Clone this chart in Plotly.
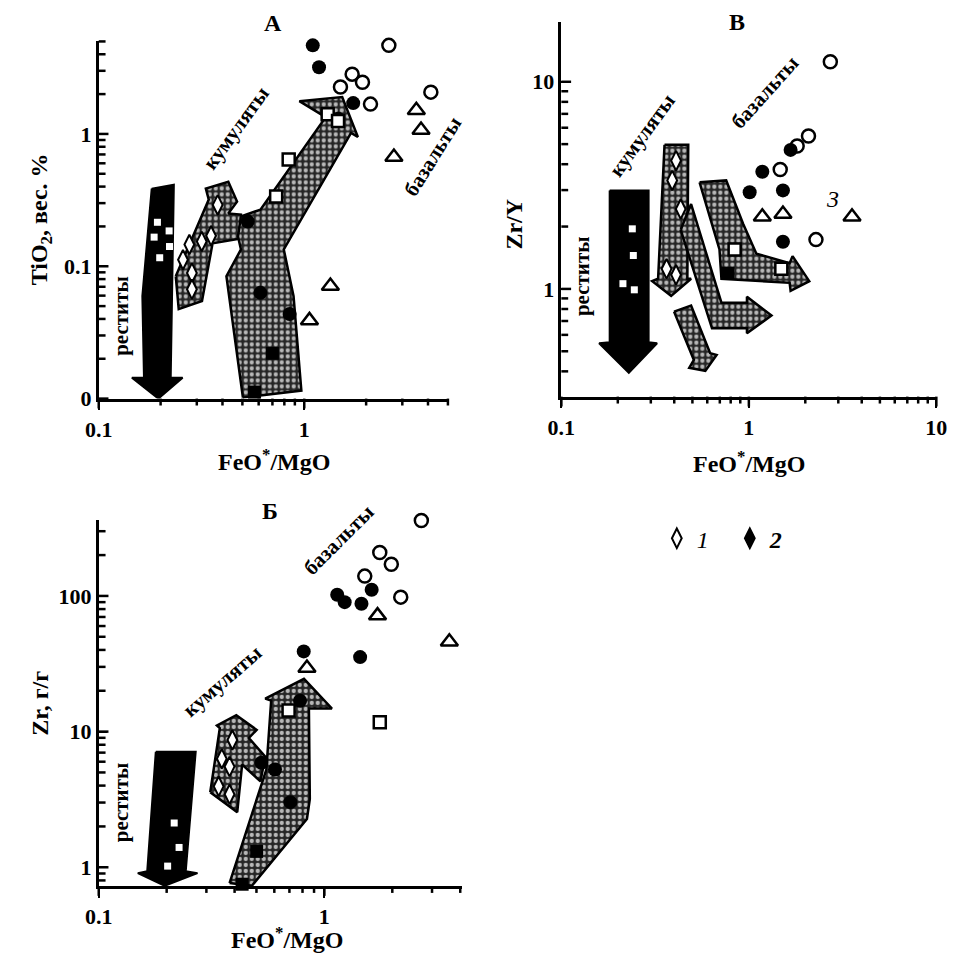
import math
import plotly.graph_objects as go

SERIF = "Liberation Serif, Times New Roman, serif"
W, H = 960, 973

# ---------------- Panel A: TiO2 (wt.%) vs FeO*/MgO ----------------
A_open_circle_x = [2.58, 1.50, 1.71, 1.92, 2.10, 4.13]
A_open_circle_y = [4.67, 2.26, 2.83, 2.46, 1.68, 2.07]
A_filled_circle_x = [1.10, 1.18, 1.73, 1.465, 0.531, 0.612, 0.849]
A_filled_circle_y = [4.67, 3.19, 1.71, 1.30, 0.218, 0.063, 0.0436]
A_filled_square_x = [0.573, 0.70]
A_filled_square_y = [0.0112, 0.022]
A_triangle_x = [3.51, 3.70, 2.73, 1.34, 1.06]
A_triangle_y = [1.51, 1.07, 0.67, 0.071, 0.039]
A_open_square_x = [0.84, 0.73, 1.30, 1.46]
A_open_square_y = [0.64, 0.336, 1.41, 1.25]
A_restite_x = [0.193, 0.220, 0.186, 0.221, 0.198]
A_restite_y = [0.215, 0.185, 0.166, 0.141, 0.116]
A_diamond_x = [0.379, 0.352, 0.317, 0.276, 0.257, 0.284, 0.284]
A_diamond_y = [0.291, 0.170, 0.154, 0.146, 0.112, 0.089, 0.067]
A_restite_arrow_x = [0.181, 0.232, 0.224, 0.256, 0.195, 0.145, 0.166, 0.163, 0.181]
A_restite_arrow_y = [0.386, 0.414, 0.0144, 0.0144, 0.0100, 0.0144, 0.0144, 0.0595, 0.386]
A_cumulate_arrow_x = [0.237, 0.245, 0.318, 0.358, 0.492, 0.492, 0.427, 0.471, 0.427, 0.332, 0.343, 0.237]
A_cumulate_arrow_y = [0.084, 0.0475, 0.0546, 0.149, 0.162, 0.246, 0.250, 0.308, 0.435, 0.386, 0.319, 0.084]
A_melt_arrow_x = [0.503, 0.968, 0.887, 0.795, 1.689, 1.823, 1.530, 0.947, 1.271, 0.612, 0.492, 0.476, 0.492, 0.418, 0.503]
A_melt_arrow_y = [0.0102, 0.0115, 0.0595, 0.134, 1.017, 0.95, 1.90, 1.77, 1.34, 0.268, 0.238, 0.168, 0.134, 0.084, 0.0102]
A_xticks = [0.1, 1]
A_xticklabels = ["0.1", "1"]
A_yticks = [0.01, 0.1, 1]
A_yticklabels = ["0", "0.1", "1"]

# ---------------- Panel В: Zr/Y vs FeO*/MgO ----------------
B_open_circle_x = [2.72, 2.08, 1.81, 1.47, 2.28]
B_open_circle_y = [12.5, 5.47, 4.90, 3.77, 1.73]
B_filled_circle_x = [1.67, 1.18, 1.01, 1.52, 1.52]
B_filled_circle_y = [4.69, 3.68, 2.93, 2.99, 1.69]
B_filled_square_x = [0.774]
B_filled_square_y = [1.19]
B_triangle_x = [1.18, 1.52, 3.55]
B_triangle_y = [2.23, 2.30, 2.23]
B_open_square_x = [0.84, 1.49]
B_open_square_y = [1.55, 1.25]
B_restite_x = [0.239, 0.242, 0.213, 0.245]
B_restite_y = [1.95, 1.45, 1.06, 0.99]
B_diamond_x = [0.409, 0.390, 0.433, 0.364, 0.409]
B_diamond_y = [4.16, 3.34, 2.43, 1.25, 1.17]
B_restite_arrow_x = [0.181, 0.292, 0.292, 0.324, 0.229, 0.159, 0.181, 0.181]
B_restite_arrow_y = [2.99, 2.99, 0.553, 0.547, 0.394, 0.547, 0.553, 2.99]
B_cumulate_arrow_x = [0.355, 0.475, 0.470, 0.492, 0.385, 0.305, 0.328, 0.355]
B_cumulate_arrow_y = [4.96, 4.96, 1.12, 1.12, 0.926, 1.09, 1.12, 4.96]
B_bend_arrow_x = [0.433, 0.492, 0.714, 0.977, 0.977, 1.32, 0.977, 0.977, 0.636, 0.433]
B_bend_arrow_y = [1.93, 2.57, 0.858, 0.858, 0.916, 0.744, 0.611, 0.645, 0.645, 1.93]
B_small_arrow_x = [0.399, 0.492, 0.621, 0.673, 0.586, 0.481, 0.509, 0.399]
B_small_arrow_y = [0.777, 0.830, 0.490, 0.480, 0.402, 0.416, 0.454, 0.777]
B_melt_arrow_x = [0.546, 0.757, 0.933, 1.097, 1.65, 1.71, 2.10, 1.67, 1.65, 0.714, 0.697, 0.546]
B_melt_arrow_y = [3.27, 3.34, 2.06, 1.48, 1.33, 1.44, 1.09, 0.978, 1.07, 1.12, 1.55, 3.27]
B_xticks = [0.1, 1, 10]
B_xticklabels = ["0.1", "1", "10"]
B_yticks = [1, 10]
B_yticklabels = ["1", "10"]

# ---------------- Panel Б: Zr (g/t) vs FeO*/MgO ----------------
C_open_circle_x = [2.69, 1.76, 1.98, 1.51, 2.18]
C_open_circle_y = [360, 209, 171, 140, 98]
C_filled_circle_x = [1.14, 1.23, 1.46, 1.62, 1.44, 0.81, 0.604, 0.78, 0.707, 0.526]
C_filled_circle_y = [102, 90, 87.5, 111, 35.4, 39, 5.25, 16.9, 3.02, 5.9]
C_filled_square_x = [0.501, 0.432]
C_filled_square_y = [1.31, 0.75]
C_triangle_x = [1.72, 3.58, 0.837]
C_triangle_y = [71.6, 46, 29.4]
C_open_square_x = [1.76, 0.694]
C_open_square_y = [11.7, 14.3]
C_restite_x = [0.216, 0.227, 0.202]
C_restite_y = [2.12, 1.40, 1.02]
C_diamond_x = [0.391, 0.351, 0.380, 0.340, 0.380]
C_diamond_y = [8.67, 6.31, 5.52, 3.95, 3.45]
C_restite_arrow_x = [0.179, 0.269, 0.243, 0.274, 0.196, 0.149, 0.164, 0.179]
C_restite_arrow_y = [7.10, 7.10, 0.935, 0.905, 0.73, 0.905, 0.935, 7.10]
C_cumulate_arrow_x = [0.312, 0.411, 0.432, 0.521, 0.547, 0.463, 0.501, 0.407, 0.334, 0.344, 0.312]
C_cumulate_arrow_y = [3.57, 2.55, 5.71, 4.30, 6.53, 8.97, 10.3, 13.2, 11.1, 10.6, 3.57]
C_melt_arrow_x = [0.380, 0.477, 0.837, 0.862, 0.854, 1.08, 0.812, 0.547, 0.581, 0.553, 0.380]
C_melt_arrow_y = [0.765, 0.73, 2.27, 3.18, 14.8, 14.8, 24.5, 17.5, 16.9, 5.25, 0.765]
C_xticks = [0.1, 1]
C_xticklabels = ["0.1", "1"]
C_yticks = [1, 10, 100]
C_yticklabels = ["1", "10", "100"]

MINOR_A_X = [0.2, 0.3, 0.4, 0.5, 0.6, 0.7, 0.8, 0.9, 2, 3, 4, 5]
MINOR_B_X = [0.2, 0.3, 0.4, 0.5, 0.6, 0.7, 0.8, 0.9, 2, 3, 4, 5, 6, 7, 8, 9]
MINOR_C_X = [0.2, 0.3, 0.4, 0.5, 0.6, 0.7, 0.8, 0.9, 2, 3, 4]
MINOR_A_Y = [0.02, 0.03, 0.04, 0.05, 0.06, 0.07, 0.08, 0.09,
             0.2, 0.3, 0.4, 0.5, 0.6, 0.7, 0.8, 0.9, 2, 3, 4, 5]
MINOR_B_Y = [0.4, 0.5, 0.6, 0.7, 0.8, 0.9, 2, 3, 4, 5, 6, 7, 8, 9]
MINOR_C_Y = [0.8, 0.9, 2, 3, 4, 5, 6, 7, 8, 9, 20, 30, 40, 50, 60, 70, 80, 90, 200, 300]


def px_x(p):
    return p / W


def px_y(p):
    return 1 - p / H


# axis geometry (paper domains and log10 ranges)
A_XDOM, A_XRNG = [px_x(87), px_x(447)], [-1.0, 0.706]
A_YDOM, A_YRNG = [px_y(404), px_y(42)], [-2.0, 0.699]
B_XDOM, B_XRNG = [px_x(562), px_x(947)], [-1.0, 1.0]
B_YDOM, B_YRNG = [px_y(402), px_y(22)], [-0.52, 1.29]
C_XDOM, C_XRNG = [px_x(87), px_x(460)], [-1.0, 0.61]
C_YDOM, C_YRNG = [px_y(898), px_y(527)], [-0.138, 2.56]

fig = go.Figure()


def arrow(xs, ys, xa, ya, dark):
    if dark:
        fig.add_trace(go.Scatter(x=xs, y=ys, xaxis=xa, yaxis=ya, mode="lines", fill="toself",
                                 fillcolor="black", line=dict(color="black", width=2),
                                 hoverinfo="skip", showlegend=False))
    else:
        fig.add_trace(go.Scatter(x=xs, y=ys, xaxis=xa, yaxis=ya, mode="lines", fill="toself",
                                 fillcolor="#3a3a3a",
                                 fillpattern=dict(shape=".", bgcolor="#262626", fgcolor="#b8b8b8",
                                                  size=6, solidity=0.4, fillmode="replace"),
                                 line=dict(color="black", width=2.5),
                                 hoverinfo="skip", showlegend=False))


def pts(xs, ys, xa, ya, symbol, color, size, lw=2.5, lc="black"):
    fig.add_trace(go.Scatter(x=xs, y=ys, xaxis=xa, yaxis=ya, mode="markers",
                             marker=dict(symbol=symbol, color=color, size=size,
                                         line=dict(color=lc, width=lw)),
                             hoverinfo="skip", showlegend=False, cliponaxis=False))


def panel(p, xa, ya):
    arrow(p["restite_arrow"][0], p["restite_arrow"][1], xa, ya, True)
    for a in p["gray_arrows"]:
        arrow(a[0], a[1], xa, ya, False)
    pts(*p["filled_circle"], xa, ya, "circle", "black", 14, 0)
    pts(*p["filled_square"], xa, ya, "square", "black", 13, 0)
    pts(*p["restite"], xa, ya, "square", "white", 7, 0)
    pts(*p["diamond"], xa, ya, "diamond-tall", "white", 14, 2)
    pts(*p["open_square"], xa, ya, "square", "white", 12, 2.5)
    pts(*p["open_circle"], xa, ya, "circle-open", "black", 13, 2.5)
    pts(*p["triangle"], xa, ya, "triangle-up-open", "black", 15, 2.5)


panel(dict(restite_arrow=(A_restite_arrow_x, A_restite_arrow_y),
           gray_arrows=[(A_cumulate_arrow_x, A_cumulate_arrow_y), (A_melt_arrow_x, A_melt_arrow_y)],
           filled_circle=(A_filled_circle_x, A_filled_circle_y),
           filled_square=(A_filled_square_x, A_filled_square_y),
           restite=(A_restite_x, A_restite_y), diamond=(A_diamond_x, A_diamond_y),
           open_square=(A_open_square_x, A_open_square_y),
           open_circle=(A_open_circle_x, A_open_circle_y),
           triangle=(A_triangle_x, A_triangle_y)), "x", "y")

panel(dict(restite_arrow=(B_restite_arrow_x, B_restite_arrow_y),
           gray_arrows=[(B_cumulate_arrow_x, B_cumulate_arrow_y), (B_bend_arrow_x, B_bend_arrow_y),
                        (B_small_arrow_x, B_small_arrow_y), (B_melt_arrow_x, B_melt_arrow_y)],
           filled_circle=(B_filled_circle_x, B_filled_circle_y),
           filled_square=(B_filled_square_x, B_filled_square_y),
           restite=(B_restite_x, B_restite_y), diamond=(B_diamond_x, B_diamond_y),
           open_square=(B_open_square_x, B_open_square_y),
           open_circle=(B_open_circle_x, B_open_circle_y),
           triangle=(B_triangle_x, B_triangle_y)), "x2", "y2")

panel(dict(restite_arrow=(C_restite_arrow_x, C_restite_arrow_y),
           gray_arrows=[(C_cumulate_arrow_x, C_cumulate_arrow_y), (C_melt_arrow_x, C_melt_arrow_y)],
           filled_circle=(C_filled_circle_x, C_filled_circle_y),
           filled_square=(C_filled_square_x, C_filled_square_y),
           restite=(C_restite_x, C_restite_y), diamond=(C_diamond_x, C_diamond_y),
           open_square=(C_open_square_x, C_open_square_y),
           open_circle=(C_open_circle_x, C_open_circle_y),
           triangle=(C_triangle_x, C_triangle_y)), "x3", "y3")

# legend entries
fig.add_trace(go.Scatter(x=[None], y=[None], mode="markers", name="<i>1</i>",
                         marker=dict(symbol="diamond-tall", color="white", size=14,
                                     line=dict(color="black", width=2))))
fig.add_trace(go.Scatter(x=[None], y=[None], mode="markers", name="<b><i>2</i></b>",
                         marker=dict(symbol="diamond-tall", color="black", size=14,
                                     line=dict(color="black", width=2))))

TICKFONT = dict(family=SERIF, size=22, color="black", weight="bold")


def xaxis(dom, rng, tv, tt, anchor):
    return dict(type="log", domain=dom, range=rng, tickmode="array", tickvals=tv, ticktext=tt,
                ticks="outside", ticklen=9, tickwidth=2, tickcolor="black", anchor=anchor,
                showline=True, linecolor="black", linewidth=2.5, showgrid=False, zeroline=False,
                tickfont=TICKFONT)


def yaxis(dom, rng, tv, tt, anchor):
    return dict(type="log", domain=dom, range=rng, tickmode="array", tickvals=tv, ticktext=tt,
                ticks="inside", ticklen=9, tickwidth=2, tickcolor="black", anchor=anchor,
                showline=True, linecolor="black", linewidth=2.5, showgrid=False, zeroline=False,
                tickfont=TICKFONT)


# tick marks drawn explicitly (major longer than minor)
shapes = []


def tick_marks(xdom, xrng, ydom, yrng, xmaj, xmin, ymaj, ymin):
    def fx(v):
        return xdom[0] + (math.log10(v) - xrng[0]) / (xrng[1] - xrng[0]) * (xdom[1] - xdom[0])

    def fy(v):
        return ydom[0] + (math.log10(v) - yrng[0]) / (yrng[1] - yrng[0]) * (ydom[1] - ydom[0])

    for vals, L in ((xmaj, 10), (xmin, 7)):
        for v in vals:
            shapes.append(dict(type="line", xref="paper", yref="paper", x0=fx(v), x1=fx(v),
                               y0=ydom[0], y1=ydom[0] - L / H, line=dict(color="black", width=2.5)))
    for vals, L in ((ymaj, 10), (ymin, 7)):
        for v in vals:
            shapes.append(dict(type="line", xref="paper", yref="paper", x0=xdom[0], x1=xdom[0] + L / W,
                               y0=fy(v), y1=fy(v), line=dict(color="black", width=2.5)))


tick_marks(A_XDOM, A_XRNG, A_YDOM, A_YRNG, A_xticks, MINOR_A_X, A_yticks, MINOR_A_Y)
tick_marks(B_XDOM, B_XRNG, B_YDOM, B_YRNG, B_xticks, MINOR_B_X, B_yticks, MINOR_B_Y)
tick_marks(C_XDOM, C_XRNG, C_YDOM, C_YRNG, C_xticks, MINOR_C_X, C_yticks, MINOR_C_Y)

fig.update_layout(
    width=W, height=H, margin=dict(l=0, r=0, t=0, b=0),
    paper_bgcolor="white", plot_bgcolor="white",
    xaxis=xaxis(A_XDOM, A_XRNG, A_xticks, A_xticklabels, "y"),
    yaxis=yaxis(A_YDOM, A_YRNG, A_yticks, A_yticklabels, "x"),
    xaxis2=xaxis(B_XDOM, B_XRNG, B_xticks, B_xticklabels, "y2"),
    yaxis2=yaxis(B_YDOM, B_YRNG, B_yticks, B_yticklabels, "x2"),
    xaxis3=xaxis(C_XDOM, C_XRNG, C_xticks, C_xticklabels, "y3"),
    yaxis3=yaxis(C_YDOM, C_YRNG, C_yticks, C_yticklabels, "x3"),
    showlegend=True,
    legend=dict(orientation="h", x=px_x(660), y=px_y(546), xanchor="left", yanchor="middle",
                font=dict(family=SERIF, size=24, color="black"), bgcolor="rgba(0,0,0,0)",
                itemwidth=30, entrywidth=28, entrywidthmode="pixels"),
    shapes=shapes,
)

ann = []


def text(t, x, y, size=22, angle=0, bold=False, italic=False):
    if italic:
        t = "<i>" + t + "</i>"
    ann.append(dict(text=t, x=px_x(x), y=px_y(y), xref="paper", yref="paper",
                    showarrow=False, textangle=angle, xanchor="center", yanchor="middle",
                    font=dict(family=SERIF, size=size, color="black",
                              weight="bold" if bold else "normal")))


# panel titles
text("А", 266, 23, 24, bold=True)
text("В", 742, 22, 24, bold=True)
text("Б", 263, 518, 24, bold=True)
# axis titles
text("FeO<sup>*</sup>/MgO", 267, 466, 24, bold=True)
text("FeO<sup>*</sup>/MgO", 755, 468, 24, bold=True)
text("FeO<sup>*</sup>/MgO", 280, 951, 24, bold=True)
text("TiO<sub>2</sub>, вес. %", 28, 222, 24, angle=-90, bold=True)
text("Zr/Y", 513, 227, 24, angle=-90, bold=True)
text("Zr, г/г", 27, 713, 24, angle=-90, bold=True)
# field labels
text("кумуляты", 228, 130, 21, angle=-54, bold=True)
text("реститы", 110, 320, 21, angle=-90, bold=True)
text("базальты", 430, 158, 21, angle=-58, bold=True)
text("кумуляты", 645, 137, 21, angle=-54, bold=True)
text("базальты", 771, 93, 21, angle=-48, bold=True)
text("реститы", 583, 280, 21, angle=-90, bold=True)
text("3", 840, 202, 24, italic=True)
text("базальты", 333, 547, 21, angle=-45, bold=True)
text("кумуляты", 214, 690, 21, angle=-41, bold=True)
text("реститы", 110, 813, 21, angle=-90, bold=True)

fig.update_layout(annotations=ann)
fig.write_html("out.html")
